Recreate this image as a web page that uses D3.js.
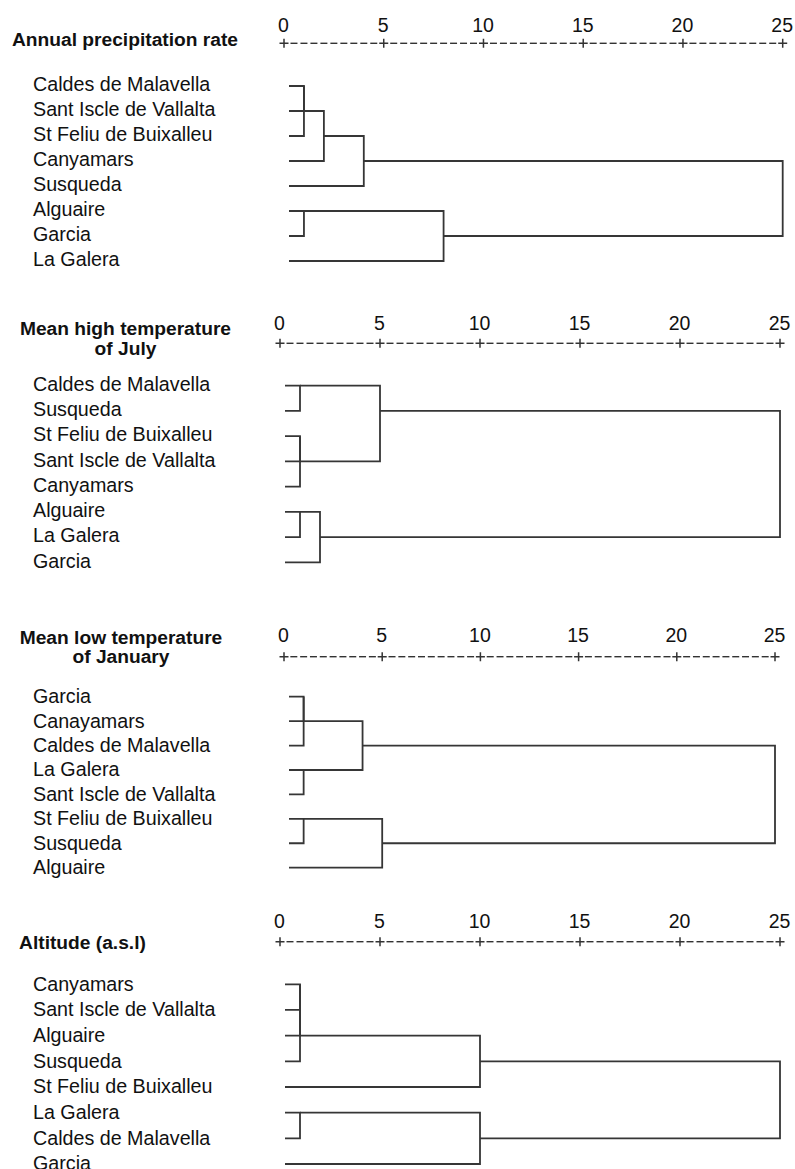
<!DOCTYPE html>
<html>
<head>
<meta charset="utf-8">
<script src="https://cdn.jsdelivr.net/npm/d3@7"></script>
<style>
  body { margin: 0; background: #fff; }
  svg { display: block; }
  text { font-family: "Liberation Sans", Arial, sans-serif; fill: #111; }
</style>
</head>
<body>
<svg id="chart" width="795" height="1169"></svg>
<script>
// Rescaled distance cluster combine axis
const tickValues = [0, 5, 10, 15, 20, 25];
const distanceDomain = [0, 25];

// Panel titles
const titlePrecip = ["Annual precipitation rate"];
const titleJuly = ["Mean high temperature", "of July"];
const titleJanuary = ["Mean low temperature", "of January"];
const titleAltitude = ["Altitude (a.s.l)"];

// Leaf order of each dendrogram, top to bottom
const leavesPrecip = ["Caldes de Malavella", "Sant Iscle de Vallalta", "St Feliu de Buixalleu",
  "Canyamars", "Susqueda", "Alguaire", "Garcia", "La Galera"];
const leavesJuly = ["Caldes de Malavella", "Susqueda", "St Feliu de Buixalleu",
  "Sant Iscle de Vallalta", "Canyamars", "Alguaire", "La Galera", "Garcia"];
const leavesJanuary = ["Garcia", "Canayamars", "Caldes de Malavella", "La Galera",
  "Sant Iscle de Vallalta", "St Feliu de Buixalleu", "Susqueda", "Alguaire"];
const leavesAltitude = ["Canyamars", "Sant Iscle de Vallalta", "Alguaire", "Susqueda",
  "St Feliu de Buixalleu", "La Galera", "Caldes de Malavella", "Garcia"];

// Agglomeration schedules: [child A, child B, rescaled distance].
// Children below 8 are leaves; 8 + k refers to the cluster formed at step k.
const mergesPrecip = [[0, 1, 1], [8, 2, 1], [9, 3, 2], [10, 4, 4], [5, 6, 1], [12, 7, 8], [11, 13, 25]];
const mergesJuly = [[0, 1, 1], [2, 3, 1], [9, 4, 1], [8, 10, 5], [5, 6, 1], [12, 7, 2], [11, 13, 25]];
const mergesJanuary = [[0, 1, 1], [8, 2, 1], [3, 4, 1], [9, 10, 4], [5, 6, 1], [12, 7, 5], [11, 13, 25]];
const mergesAltitude = [[0, 1, 1], [8, 2, 1], [9, 3, 1], [10, 4, 10], [5, 6, 1], [12, 7, 10], [11, 13, 25]];

// Page layout of the four stacked panels
const panels = [
  { title: titlePrecip, leaves: leavesPrecip, merges: mergesPrecip,
    x0: 284, x1: 782.7, axisY: 43.3, tickBase: 31.7, rowTop: 86, rowBottom: 261, labelShift: 4.8,
    titleX: 125, titleBase: [46] },
  { title: titleJuly, leaves: leavesJuly, merges: mergesJuly,
    x0: 280, x1: 780, axisY: 343.3, tickBase: 330, rowTop: 385.7, rowBottom: 562.3, labelShift: 5.2,
    titleX: 125.5, titleBase: [335, 355] },
  { title: titleJanuary, leaves: leavesJanuary, merges: mergesJanuary,
    x0: 284, x1: 775, axisY: 656.7, tickBase: 642, rowTop: 696.7, rowBottom: 867.7, labelShift: 6.4,
    titleX: 121, titleBase: [643.6, 663] },
  { title: titleAltitude, leaves: leavesAltitude, merges: mergesAltitude,
    x0: 280, x1: 780, axisY: 941.7, tickBase: 928, rowTop: 984.3, rowBottom: 1164, labelShift: 6.2,
    titleX: 82.5, titleBase: [948.5] }
];

const svg = d3.select("#chart");
const lineColor = "#363636";
const titleSize = 19.2;
const labelSize = 19.7;
const tickSize = 19.5;

panels.forEach(p => {
  const g = svg.append("g");
  const n = p.leaves.length;
  const x = d3.scaleLinear().domain(distanceDomain).range([p.x0, p.x1]);
  const y = d3.scaleLinear().domain([0, n - 1]).range([p.rowTop, p.rowBottom]);

  // Title
  p.title.forEach((line, i) => {
    g.append("text")
      .attr("x", p.titleX).attr("y", p.titleBase[i])
      .attr("text-anchor", "middle")
      .attr("font-size", titleSize).attr("font-weight", "bold")
      .text(line);
  });

  // Tick labels
  const axis = d3.axisTop(x).tickValues(tickValues).tickSize(0).tickPadding(0);
  const ax = g.append("g").attr("transform", `translate(-1,${p.tickBase})`).call(axis);
  ax.select(".domain").remove();
  ax.selectAll("text")
    .attr("y", 0).attr("dy", 0)
    .attr("font-size", tickSize)
    .style("font-family", "'Liberation Sans', Arial, sans-serif")
    .style("fill", "#111");

  // Dashed ruler: two character cells per unit, "+" at every tick
  const dashUnits = d3.range(1, 50).filter(k => k % 10 !== 0).map(k => k / 2);
  g.selectAll(".dash").data(dashUnits).join("line")
    .attr("x1", d => x(d) - 3.5).attr("x2", d => x(d) + 3.5)
    .attr("y1", p.axisY).attr("y2", p.axisY)
    .attr("stroke", "#333").attr("stroke-width", 1.4);
  g.selectAll(".plus").data(tickValues).join("path")
    .attr("d", d => `M${x(d) - 4.5},${p.axisY}H${x(d) + 4.5}M${x(d)},${p.axisY - 4.5}V${p.axisY + 4.5}`)
    .attr("stroke", "#333").attr("stroke-width", 1.5).attr("fill", "none");

  // Leaf labels
  g.selectAll(".leaf").data(p.leaves).join("text")
    .attr("x", 33)
    .attr("y", (d, i) => y(i) + p.labelShift)
    .attr("font-size", labelSize)
    .text(d => d);

  // Dendrogram: each node keeps its row and joining distance
  const nodes = p.leaves.map((name, i) => ({ row: i, h: null }));
  const leafStart = x(0) + 5;
  p.merges.forEach(([a, b, dist]) => {
    const na = nodes[a], nb = nodes[b];
    const xa = na.h === null ? leafStart : x(na.h);
    const xb = nb.h === null ? leafStart : x(nb.h);
    const xm = x(dist);
    g.append("path")
      .attr("d", `M${xa},${y(na.row)}H${xm}V${y(nb.row)}H${xb}`)
      .attr("fill", "none")
      .attr("stroke", lineColor)
      .attr("stroke-width", 1.8);
    nodes.push({ row: Math.floor((na.row + nb.row) / 2), h: dist });
  });
});
</script>
</body>
</html>
